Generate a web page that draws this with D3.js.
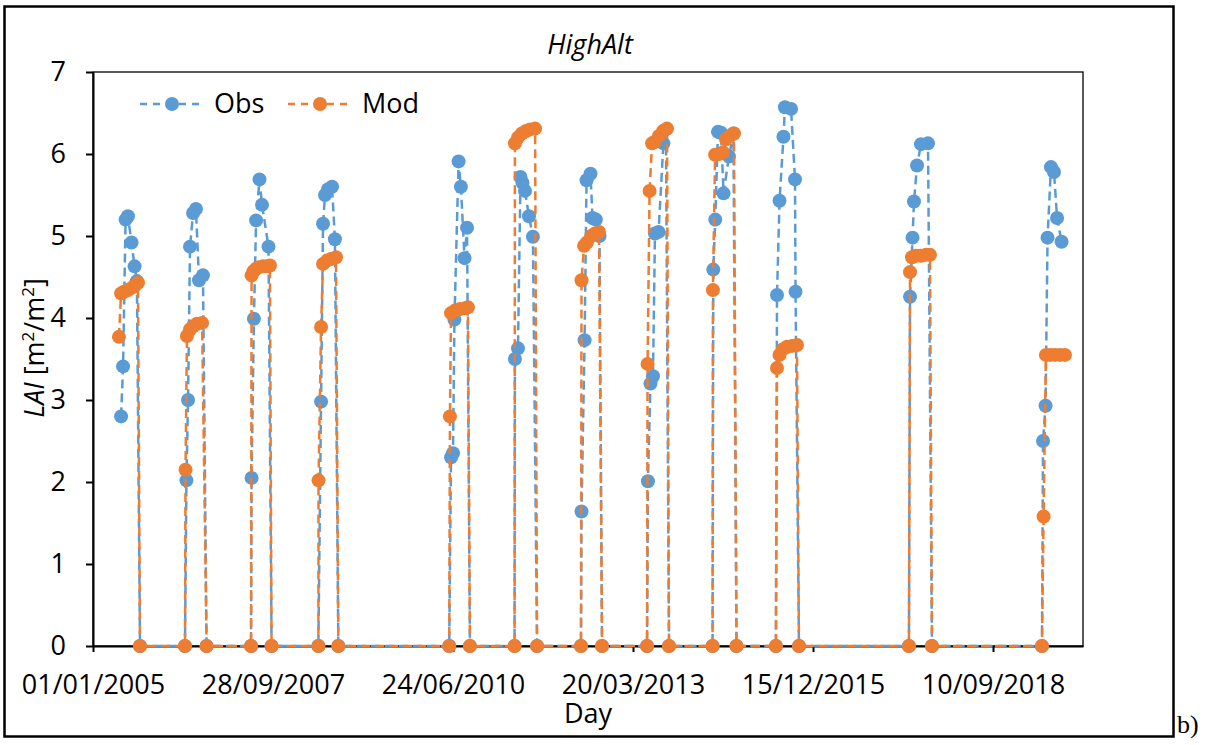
<!DOCTYPE html>
<html>
<head>
<meta charset="utf-8">
<script src="https://cdn.jsdelivr.net/npm/d3@7"></script>
<style>
body { margin: 0; background: #fff; }
text { font-family: "Open Sans", "Noto Sans", sans-serif; fill: #000; }
</style>
</head>
<body>
<div id="grafica"></div>
<script>
// dias desde 01/01/2005
var obsDay = [
	156, 167, 181, 194, 214, 231, 244, 261,
	511, 519, 528, 539, 556, 572, 589, 611, 631,
	878, 881, 894, 906, 925, 939, 975, 992,
	1252, 1267, 1278, 1289, 1306, 1328, 1344, 1363,
	1979, 1989, 2000, 2008, 2031, 2044, 2064, 2078, 2094,
	2342, 2344, 2361, 2375, 2386, 2400, 2422, 2444, 2467,
	2711, 2714, 2731, 2742, 2764, 2775, 2794, 2814, 2828,
	3078, 3083, 3097, 3111, 3122, 3142, 3169, 3183, 3200,
	3442, 3446, 3457, 3472, 3489, 3503, 3533, 3558, 3575,
	3794, 3800, 3814, 3836, 3844, 3878, 3900, 3903, 3922,
	4533, 4539, 4553, 4561, 4578, 4600, 4639, 4661,
	5272, 5278, 5292, 5303, 5322, 5339, 5356, 5381
];
var obsLAI = [
	2.80, 3.41, 5.20, 5.24, 4.92, 4.63, 4.45, 0,
	0, 2.02, 3.00, 4.87, 5.28, 5.33, 4.46, 4.52, 0,
	0, 2.05, 3.99, 5.19, 5.69, 5.38, 4.87, 0,
	0, 2.98, 5.15, 5.50, 5.57, 5.60, 4.96, 0,
	0, 2.30, 2.35, 3.98, 5.91, 5.60, 4.73, 5.10, 0,
	0, 3.50, 3.63, 5.72, 5.65, 5.55, 5.24, 4.99, 0,
	0, 1.64, 3.73, 5.68, 5.76, 5.22, 5.20, 5.00, 0,
	0, 2.01, 3.20, 3.29, 5.03, 5.05, 6.13, 6.30, 0,
	0, 4.59, 5.20, 6.27, 6.26, 5.52, 5.97, 6.25, 0,
	0, 4.28, 5.43, 6.21, 6.57, 6.55, 5.69, 4.32, 0,
	0, 4.26, 4.98, 5.42, 5.86, 6.12, 6.13, 0,
	0, 2.50, 2.93, 4.98, 5.84, 5.78, 5.22, 4.93
];
var modDay = [
	144, 156, 172, 194, 217, 233, 250, 261,
	511, 514, 522, 539, 556, 578, 606, 631,
	878, 881, 892, 906, 922, 944, 967, 983, 992,
	1252, 1253, 1267, 1278, 1300, 1322, 1350, 1363,
	1979, 1983, 1989, 2011, 2039, 2067, 2083, 2094,
	2342, 2344, 2361, 2383, 2406, 2428, 2456, 2467,
	2711, 2714, 2728, 2744, 2767, 2789, 2811, 2828,
	3078, 3081, 3092, 3106, 3122, 3144, 3167, 3189, 3200,
	3442, 3444, 3456, 3478, 3500, 3517, 3539, 3561, 3575,
	3794, 3800, 3814, 3833, 3856, 3883, 3911, 3922,
	4533, 4539, 4550, 4572, 4600, 4628, 4650, 4661,
	5272, 5281, 5294, 5317, 5344, 5372, 5400
];
var modLAI = [
	3.77, 4.30, 4.32, 4.34, 4.37, 4.40, 4.43, 0,
	0, 2.15, 3.78, 3.86, 3.90, 3.93, 3.94, 0,
	0, 4.52, 4.57, 4.60, 4.62, 4.63, 4.63, 4.64, 0,
	0, 2.02, 3.89, 4.66, 4.70, 4.72, 4.74, 0,
	0, 2.80, 4.06, 4.09, 4.11, 4.12, 4.13, 0,
	0, 6.13, 6.20, 6.25, 6.28, 6.30, 6.31, 0,
	0, 4.46, 4.88, 4.92, 5.00, 5.03, 5.05, 0,
	0, 3.44, 5.55, 6.13, 6.15, 6.22, 6.28, 6.31, 0,
	0, 4.34, 5.99, 6.00, 6.02, 6.18, 6.22, 6.25, 0,
	0, 3.39, 3.55, 3.62, 3.65, 3.66, 3.67, 0,
	0, 4.56, 4.74, 4.76, 4.76, 4.77, 4.77, 0,
	0, 1.58, 3.55, 3.55, 3.55, 3.55, 3.55
];
var series = ["Obs", "Mod"];
var colores = ["#5b9bd5", "#ed7d31"];
var yTicks = [0, 1, 2, 3, 4, 5, 6, 7];
var xTicks = [0, 1000, 2000, 3000, 4000, 5000];
var origen = new Date(2005, 0, 1);

var izq = 93, der = 1083, arriba = 72, abajo = 646;
var fmt = d3.timeFormat("%d/%m/%Y");

var svg = d3.select("#grafica")
	.append("svg")
	.attr("width", 1207)
	.attr("height", 745);

var x = d3.scaleLinear().domain([0, 5500]).range([izq, der]);
var y = d3.scaleLinear().domain([0, 7]).range([abajo, arriba]);

// marco exterior
svg.append("rect")
	.attr("x", 4.5)
	.attr("y", 6.5)
	.attr("width", 1169)
	.attr("height", 730)
	.attr("fill", "none")
	.attr("stroke", "#000")
	.attr("stroke-width", 2.5);

svg.append("text")
	.attr("x", 1177)
	.attr("y", 733)
	.style("font-family", "'Liberation Serif', serif")
	.attr("font-size", "26px")
	.text("b)");

// area del grafico
svg.append("rect")
	.attr("x", izq)
	.attr("y", arriba)
	.attr("width", der - izq)
	.attr("height", abajo - arriba)
	.attr("fill", "none")
	.attr("stroke", "#000")
	.attr("stroke-width", 1.3);

var ejeY = svg.append("g")
	.attr("transform", "translate(" + izq + ",0)")
	.call(d3.axisLeft(y).tickValues(yTicks).tickSize(7).tickSizeOuter(0).tickPadding(20).tickFormat(d3.format("d")));
var ejeX = svg.append("g")
	.attr("transform", "translate(0," + abajo + ")")
	.call(d3.axisBottom(x).tickValues(xTicks).tickSize(6).tickSizeOuter(0).tickPadding(23)
		.tickFormat(function(d) { return fmt(d3.timeDay.offset(origen, d)); }));

[ejeY, ejeX].forEach(function(g) {
	g.select(".domain").attr("stroke", "#000").attr("stroke-width", 2);
	g.selectAll(".tick line").attr("stroke", "#000").attr("stroke-width", 2);
	g.selectAll(".tick text")
		.attr("font-size", "27px")
		.style("font-family", "'Open Sans', sans-serif")
		.attr("fill", "#000");
});

// series
var datos = [d3.zip(obsDay, obsLAI), d3.zip(modDay, modLAI)];
var linea = d3.line()
	.x(function(d) { return x(d[0]); })
	.y(function(d) { return y(d[1]); });

for (var s = 0; s < datos.length; s++) {
	svg.append("path")
		.datum(datos[s])
		.attr("d", linea)
		.attr("fill", "none")
		.attr("stroke", colores[s])
		.attr("stroke-width", 2.5)
		.attr("stroke-dasharray", "9,5");
	svg.append("g")
		.selectAll("circle")
		.data(datos[s])
		.enter()
		.append("circle")
		.attr("cx", function(d) { return x(d[0]); })
		.attr("cy", function(d) { return y(d[1]); })
		.attr("r", 7)
		.attr("fill", colores[s]);
}

// leyenda
var legX = [140, 288];
for (var i = 0; i < series.length; i++) {
	svg.append("line")
		.attr("x1", legX[i])
		.attr("x2", legX[i] + 61)
		.attr("y1", 104)
		.attr("y2", 104)
		.attr("stroke", colores[i])
		.attr("stroke-width", 2.5)
		.attr("stroke-dasharray", "7,6");
	svg.append("circle")
		.attr("cx", legX[i] + 32)
		.attr("cy", 104)
		.attr("r", 7)
		.attr("fill", colores[i]);
	svg.append("text")
		.attr("x", legX[i] + 74)
		.attr("y", 113)
		.attr("font-size", "27px")
		.text(series[i]);
}

// titulos
svg.append("text")
	.attr("x", 590)
	.attr("y", 54)
	.attr("text-anchor", "middle")
	.attr("font-size", "27px")
	.attr("font-style", "italic")
	.text("HighAlt");

svg.append("text")
	.attr("x", 588)
	.attr("y", 723)
	.attr("text-anchor", "middle")
	.attr("font-size", "27px")
	.text("Day");

var ty = svg.append("text")
	.attr("transform", "translate(44,348) rotate(-90)")
	.attr("text-anchor", "middle")
	.attr("font-size", "27px");
ty.append("tspan").attr("font-style", "italic").text("LAI");
ty.append("tspan").text(" [m");
ty.append("tspan").attr("font-size", "17px").attr("dy", -10).text("2");
ty.append("tspan").attr("dy", 10).text("/m");
ty.append("tspan").attr("font-size", "17px").attr("dy", -10).text("2");
ty.append("tspan").attr("dy", 10).text("]");
</script>
</body>
</html>
